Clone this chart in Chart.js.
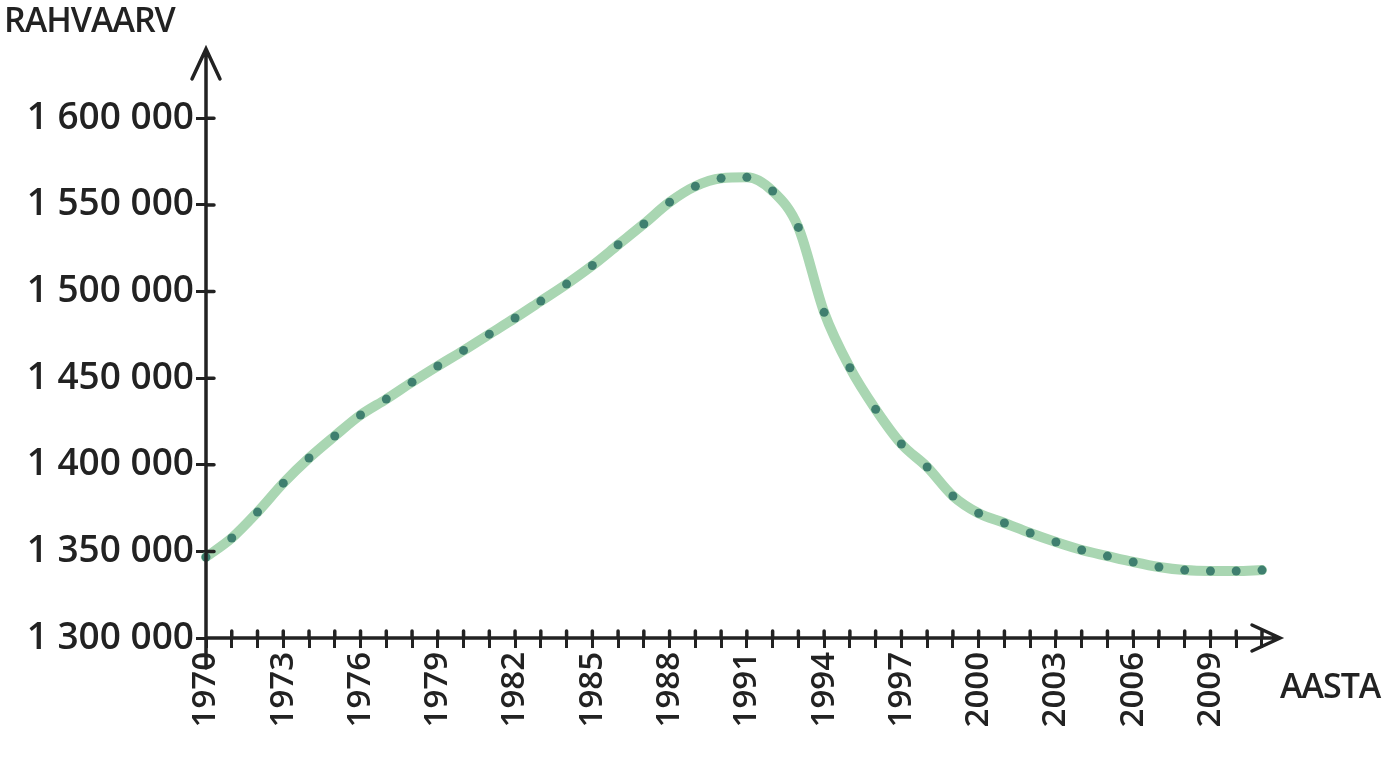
<!DOCTYPE html>
<html lang="et">
<head>
<meta charset="UTF-8">
<title>Rahvaarv</title>
<script src="https://cdn.jsdelivr.net/npm/chart.js"></script>
<style>
  html, body { margin: 0; padding: 0; background: #fff; }
  #wrap { position: relative; width: 1400px; height: 774px; }
  .lbl { position: absolute; font-family: "Open Sans", sans-serif; font-weight: 600; font-size: 34px; color: #222; letter-spacing: -1px; }
</style>
</head>
<body>
<div id="wrap">
  <canvas id="chart" width="1400" height="774"></canvas>
  <div class="lbl" style="left:4px; top:-4px;">RAHVAARV</div>
  <div class="lbl" style="left:1280px; top:662px;">AASTA</div>
</div>
<script>
// population by year
const years = [1970, 1971, 1972, 1973, 1974, 1975, 1976, 1977, 1978, 1979,
  1980, 1981, 1982, 1983, 1984, 1985, 1986, 1987, 1988, 1989,
  1990, 1991, 1992, 1993, 1994, 1995, 1996, 1997, 1998, 1999,
  2000, 2001, 2002, 2003, 2004, 2005, 2006, 2007, 2008, 2009, 2010, 2011];
const population = [1346700, 1357700, 1372700, 1389400, 1403900, 1416600, 1428700, 1437900, 1447700, 1457000,
  1466000, 1475400, 1484700, 1494500, 1504300, 1515000, 1527000, 1539000, 1551600, 1560800,
  1565400, 1566000, 1558000, 1537000, 1488000, 1456000, 1432000, 1412000, 1398700, 1382000,
  1372000, 1366400, 1360600, 1355400, 1350800, 1347300, 1343900, 1341000, 1339200, 1338700, 1338700, 1339200];
const yTicks = [1300000, 1350000, 1400000, 1450000, 1500000, 1550000, 1600000];

const ink = '#222';

// axis lines with arrowheads, and small tick marks poking right of the y axis
const arrows = {
  id: 'arrows',
  afterDraw(chart) {
    const { ctx, chartArea: a, scales } = chart;
    ctx.save();
    ctx.strokeStyle = ink;
    ctx.lineWidth = 3.5;
    ctx.lineCap = 'round';
    ctx.beginPath();
    ctx.moveTo(a.left, a.bottom + 30);
    ctx.lineTo(a.left, a.top);
    ctx.moveTo(a.left - 14, a.top + 30);
    ctx.lineTo(a.left, a.top);
    ctx.lineTo(a.left + 14, a.top + 30);
    ctx.moveTo(a.left, a.bottom);
    ctx.lineTo(a.right, a.bottom);
    ctx.moveTo(a.right - 28, a.bottom - 13);
    ctx.lineTo(a.right, a.bottom);
    ctx.lineTo(a.right - 28, a.bottom + 13);
    yTicks.slice(1).forEach(v => {
      const py = scales.y.getPixelForValue(v);
      ctx.moveTo(a.left, py);
      ctx.lineTo(a.left + 8, py);
    });
    scales.x.ticks.forEach(t => {
      const px = scales.x.getPixelForValue(t.value);
      ctx.moveTo(px, a.bottom);
      ctx.lineTo(px, a.bottom - 7);
    });
    ctx.stroke();
    ctx.restore();
  }
};

new Chart(document.getElementById('chart'), {
  type: 'line',
  data: {
    datasets: [{
      data: years.map((y, i) => ({ x: y, y: population[i] })),
      borderColor: '#a9d6b2',
      borderWidth: 10,
      borderCapStyle: 'round',
      cubicInterpolationMode: 'monotone',
      pointRadius: 4.5,
      pointBackgroundColor: '#3f7f6f',
      pointBorderWidth: 0,
      clip: false
    }]
  },
  options: {
    responsive: false,
    animation: false,
    layout: { padding: { top: 49, right: 120, left: 0, bottom: 0 } },
    plugins: { legend: { display: false }, tooltip: { enabled: false } },
    scales: {
      x: {
        type: 'linear',
        min: 1970,
        max: 2011.7,
        afterFit(s) { s.height = 136; },
        afterBuildTicks(s) { s.ticks = years.map(v => ({ value: v })); },
        border: { display: false },
        grid: { drawOnChartArea: false, color: ink, lineWidth: 3, tickLength: 10 },
        ticks: {
          autoSkip: false,
          minRotation: 90,
          maxRotation: 90,
          color: ink,
          padding: 4,
          font: { family: 'Open Sans', size: 33, weight: '600' },
          callback: v => ((v - 1970) % 3 === 0 && v <= 2009) ? String(v) : ''
        }
      },
      y: {
        min: 1300000,
        max: 1640000,
        afterFit(s) { s.width = 206; },
        afterBuildTicks(s) { s.ticks = yTicks.map(v => ({ value: v })); },
        border: { display: false },
        grid: { drawOnChartArea: false, color: ink, lineWidth: 3, tickLength: 10 },
        ticks: {
          color: ink,
          padding: 2,
          font: { family: 'Open Sans', size: 37, weight: '600' },
          callback: v => String(v).replace(/(\d)(\d{3})$/, '$1 $2').replace(/^(\d)(\d{3})/, '$1 $2')
        }
      }
    }
  },
  plugins: [arrows]
});
</script>
</body>
</html>
